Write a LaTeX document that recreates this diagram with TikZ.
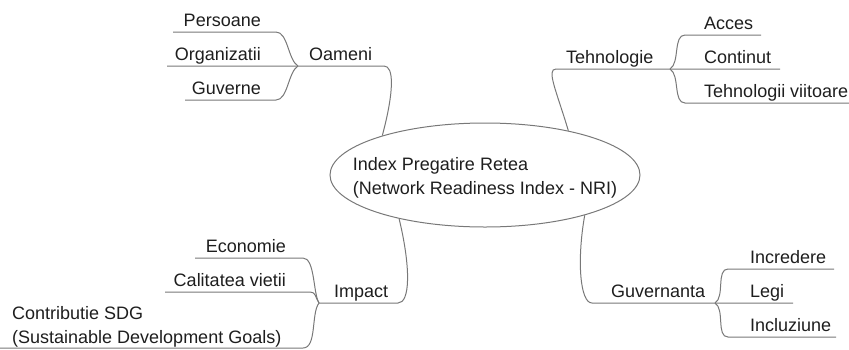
\documentclass[tikz,border=0pt]{standalone}
\usepackage{fontspec}
\setmainfont{Liberation Sans}
\usetikzlibrary{shapes.geometric}
\definecolor{branchgray}{RGB}{120,120,120}
\definecolor{labelink}{RGB}{30,30,30}

\begin{document}
\begin{tikzpicture}[x=1pt,y=-1pt,
		link/.style={draw=branchgray, line width=1pt},
		hub/.style={ellipse, draw=branchgray, line width=1pt, minimum width=310pt, minimum height=104pt, inner sep=0pt},
		lbl/.style={inner sep=0pt, text=labelink, font=\fontsize{18}{24}\selectfont},
		lleaf/.style={lbl, anchor=base east},
		rleaf/.style={lbl, anchor=base west}]
		\useasboundingbox (0,0) rectangle (849,349);

		\node[hub] (nri) at (485,175) {};
		\node[lbl, align=left] (nri-txt) at (485,178) {Index Pregatire Retea\\(Network Readiness Index - NRI)};

		\node[rleaf] (oameni) at (309,60) {Oameni};
		\node[rleaf] (tehno) at (566,63) {Tehnologie};
		\node[rleaf] (impact) at (334,297) {Impact};
		\node[rleaf] (gov) at (611,297) {Guvernanta};

		\node[lleaf] (persoane) at (261,26) {Persoane};
		\node[lleaf] (organiz) at (261,60) {Organizatii};
		\node[lleaf] (guverne) at (261,94) {Guverne};
		\node[lleaf] (economie) at (286,252) {Economie};
		\node[lleaf] (calitate) at (286,286) {Calitatea vietii};
		\node[rleaf, align=left] (sdg) at (12,343) {Contributie SDG\\(Sustainable Development Goals)};

		\node[rleaf] (acces) at (704,29) {Acces};
		\node[rleaf] (continut) at (704,63) {Continut};
		\node[rleaf] (viitoare) at (704,97) {Tehnologii viitoare};
		\node[rleaf] (incredere) at (750,263) {Incredere};
		\node[rleaf] (legi) at (750,297) {Legi};
		\node[rleaf] (incluz) at (750,331) {Incluziune};

		\coordinate (oam-j) at (298,66);
		\coordinate (oam-e) at (384,66);
		\coordinate (pers-e) at (276,32);
		\coordinate (pers-s) at (173,32);
		\coordinate (org-s) at (167,66);
		\coordinate (guv-e) at (276,100);
		\coordinate (guv-s) at (185,100);

		\coordinate (teh-j) at (670,69);
		\coordinate (teh-e) at (556,69);
		\coordinate (acc-e) at (685,35);
		\coordinate (acc-s) at (761,35);
		\coordinate (con-s) at (780,69);
		\coordinate (vii-e) at (685,103);
		\coordinate (vii-s) at (849,103);

		\coordinate (imp-j) at (319,303);
		\coordinate (imp-e) at (398,303);
		\coordinate (eco-e) at (303,258);
		\coordinate (eco-s) at (195,258);
		\coordinate (cal-e) at (310,292);
		\coordinate (cal-s) at (165,292);
		\coordinate (sdg-e) at (303,348);
		\coordinate (sdg-s) at (0,348);

		\coordinate (gov-j) at (715,303);
		\coordinate (gov-e) at (592,303);
		\coordinate (inc-e) at (728,269);
		\coordinate (inc-s) at (834,269);
		\coordinate (leg-s) at (793,303);
		\coordinate (inz-e) at (728,337);
		\coordinate (inz-s) at (836,337);

		\draw[link] (nri.159) .. controls +(12,-45) and +(10,0) .. (oam-e) -- (oam-j) -- (org-s);
		\draw[link] (oam-j) .. controls +(-10,-6) and +(12,0) .. (pers-e) -- (pers-s);
		\draw[link] (oam-j) .. controls +(-10,6) and +(12,0) .. (guv-e) -- (guv-s);

		\draw[link] (nri.28) .. controls +(-12,-40) and +(-10,0) .. (teh-e) -- (teh-j) -- (con-s);
		\draw[link] (teh-j) .. controls +(10,-6) and +(-12,0) .. (acc-e) -- (acc-s);
		\draw[link] (teh-j) .. controls +(10,6) and +(-12,0) .. (vii-e) -- (vii-s);

		\draw[link] (nri.207) .. controls +(12,50) and +(12,0) .. (imp-e) -- (imp-j);
		\draw[link] (imp-j) .. controls +(-6,-10) and +(12,0) .. (eco-e) -- (eco-s);
		\draw[link] (imp-j) .. controls +(-4,-6) and +(6,0) .. (cal-e) -- (cal-s);
		\draw[link] (imp-j) .. controls +(-8,10) and +(14,0) .. (sdg-e) -- (sdg-s);

		\draw[link] (nri.338) .. controls +(-8,45) and +(-12,0) .. (gov-e) -- (gov-j) -- (leg-s);
		\draw[link] (gov-j) .. controls +(10,-6) and +(-12,0) .. (inc-e) -- (inc-s);
		\draw[link] (gov-j) .. controls +(10,6) and +(-12,0) .. (inz-e) -- (inz-s);
	\end{tikzpicture}
\end{document}
